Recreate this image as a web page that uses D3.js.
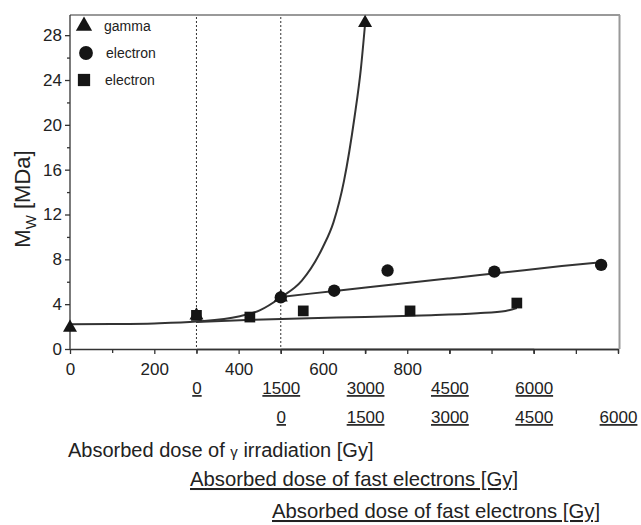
<!DOCTYPE html>
<html><head><meta charset="utf-8">
<script src="https://cdn.jsdelivr.net/npm/d3@7"></script>
<style>
html,body{margin:0;padding:0;background:#fff;}
text{font-family:"Liberation Sans",Arial,sans-serif;fill:#222;}
</style></head>
<body>
<svg id="chart" width="641" height="525"></svg>
<script>
// ---- data ----
const gammaTicks = [0, 200, 400, 600, 800];
const electronTicks = [0, 1500, 3000, 4500, 6000];
const yTicks = [0, 4, 8, 12, 16, 20, 24, 28];

const gammaDose = [0, 300, 500, 700];
const gammaMw = [1.9, 3.0, 4.6, 29.1];
const elecCircleDose = [0, 950, 1900, 3800, 5700];   // second electron axis
const elecCircleMw = [4.6, 5.2, 7.0, 6.9, 7.5];
const elecSquareDose = [0, 950, 1900, 3800, 5700];   // first electron axis
const elecSquareMw = [3.0, 2.85, 3.4, 3.4, 4.1];

const gammaFitDose = [0, 100, 200, 300, 400, 450, 500, 550, 600, 625, 650, 675, 690, 700];
const gammaFitMw = [2.2, 2.22, 2.28, 2.45, 2.9, 3.45, 4.6, 6.1, 9.1, 11.3, 15.0, 20.7, 25.0, 29.0];
const circleFitDose = [0, 1000, 2000, 3000, 4000, 5000, 5700];
const circleFitMw = [4.65, 5.2, 5.75, 6.3, 6.85, 7.4, 7.75];
const squareFitDose = [0, 1000, 2000, 3000, 4000, 5000, 5500, 5700];
const squareFitMw = [2.4, 2.6, 2.75, 2.85, 3.0, 3.2, 3.4, 3.65];

const legendLabels = ["gamma", "electron", "electron"];

// ---- scales ----
const svg = d3.select("#chart");
const x0 = 70, x1 = 618, yb = 349, yt = 15;
const xG = d3.scaleLinear().domain([0, 1300]).range([x0, x1]);
const xE1 = d3.scaleLinear().domain([0, 6000]).range([xG(300), xG(1100)]);
const xE2 = d3.scaleLinear().domain([0, 6000]).range([xG(500), xG(1300)]);
const y = d3.scaleLinear().domain([0, 29.8]).range([yb, yt]);

const ink = "#222";

// frame
svg.append("line").attr("x1", x0).attr("x2", 620).attr("y1", yt).attr("y2", yt)
  .attr("stroke", "#999").attr("stroke-width", 2);
svg.append("line").attr("x1", 619.5).attr("x2", 619.5).attr("y1", yt).attr("y2", yb)
  .attr("stroke", "#999").attr("stroke-width", 2);

// dotted verticals
[300, 500].forEach(v => {
  svg.append("line").attr("x1", xG(v)).attr("x2", xG(v)).attr("y1", yt + 2).attr("y2", yb)
    .attr("stroke", "#333").attr("stroke-width", 1).attr("stroke-dasharray", "2,2");
});

function styleAxis(g, fs) {
  g.selectAll("path.domain").attr("stroke", "#333").attr("stroke-width", 1.3);
  g.selectAll(".tick line").attr("stroke", "#333").attr("stroke-width", 1.3);
  g.selectAll("text").attr("font-size", fs).attr("fill", ink)
    .style("font-family", '"Liberation Sans",Arial,sans-serif');
}

// y axis
const gy = svg.append("g").attr("transform", `translate(${x0},0)`)
  .call(d3.axisLeft(y).tickValues(yTicks).tickSize(5).tickSizeOuter(0).tickPadding(3));
styleAxis(gy, 17);
gy.select("path.domain").attr("d", `M0,${yb}V${yt}`);
const gyMinor = svg.append("g").attr("transform", `translate(${x0},0)`)
  .call(d3.axisLeft(y).tickValues(d3.range(2, 29, 4)).tickSize(3).tickFormat(""));
gyMinor.select("path.domain").remove();
styleAxis(gyMinor, 17);

// gamma x axis
const gx = svg.append("g").attr("transform", `translate(0,${yb})`)
  .call(d3.axisBottom(xG).tickValues(d3.range(0, 1301, 200)).tickSize(5).tickSizeOuter(0).tickPadding(9)
    .tickFormat(d => gammaTicks.includes(d) ? String(d) : ""));
styleAxis(gx, 17);
const gxMinor = svg.append("g").attr("transform", `translate(0,${yb})`)
  .call(d3.axisBottom(xG).tickValues(d3.range(100, 1301, 200)).tickSize(4).tickFormat(""));
gxMinor.select("path.domain").remove();
styleAxis(gxMinor, 17);

// electron axes (overlaid on the bottom line)
const ge1 = svg.append("g").attr("transform", `translate(0,${yb})`)
  .call(d3.axisBottom(xE1).tickValues(electronTicks).tickSize(5).tickSizeOuter(0).tickPadding(28)
    .tickFormat(d => String(d)));
styleAxis(ge1, 17);
const ge2 = svg.append("g").attr("transform", `translate(0,${yb})`)
  .call(d3.axisBottom(xE2).tickValues(electronTicks).tickSize(5).tickSizeOuter(0).tickPadding(57)
    .tickFormat(d => String(d)));
styleAxis(ge2, 17);
[ge1, ge2].forEach(g => g.selectAll("text").style("text-decoration", "underline").attr("fill", "#333"));

// fit lines
const line = (sx) => d3.line().x(d => sx(d[0])).y(d => y(d[1])).curve(d3.curveMonotoneX);
function fit(sx, xs, ys) {
  svg.append("path").datum(xs.map((v, i) => [v, ys[i]]))
    .attr("d", line(sx)).attr("fill", "none").attr("stroke", "#333").attr("stroke-width", 2);
}
fit(xG, gammaFitDose, gammaFitMw);
fit(xE2, circleFitDose, circleFitMw);
fit(xE1, squareFitDose, squareFitMw);

// markers
function marks(sx, xs, ys, type, size) {
  svg.append("g").selectAll("path").data(xs.map((v, i) => [v, ys[i]])).join("path")
    .attr("transform", d => `translate(${sx(d[0])},${y(d[1])})`)
    .attr("d", d3.symbol().type(type).size(size)).attr("fill", "#151515");
}
marks(xE1, elecSquareDose, elecSquareMw, d3.symbolSquare, 115);
marks(xE2, elecCircleDose, elecCircleMw, d3.symbolCircle, 120);
marks(xG, gammaDose, gammaMw, d3.symbolTriangle, 85);

// legend
const legTypes = [d3.symbolTriangle, d3.symbolCircle, d3.symbolSquare];
const legSizes = [115, 150, 150];
const legY = [26, 53, 80];
const legTx = [104, 106, 105];
legendLabels.forEach((lab, i) => {
  svg.append("path").attr("transform", `translate(${i === 1 ? 86 : 84},${legY[i]})`)
    .attr("d", d3.symbol().type(legTypes[i]).size(legSizes[i])).attr("fill", "#151515");
  svg.append("text").attr("x", legTx[i]).attr("y", legY[i] + 5).attr("font-size", 14)
    .attr("fill", "#333").text(lab);
});

// y title
const yt1 = svg.append("text").attr("transform", "translate(30,199) rotate(-90)")
  .attr("text-anchor", "middle").attr("font-size", 22);
yt1.append("tspan").text("M");
yt1.append("tspan").attr("font-size", 15).attr("dy", 6).text("W");
yt1.append("tspan").attr("dy", -6).text(" [MDa]");

// x titles
const t1 = svg.append("text").attr("x", 68).attr("y", 457).attr("font-size", 20);
t1.append("tspan").text("Absorbed dose of ");
t1.append("tspan").attr("font-size", 15).text("γ");
t1.append("tspan").text(" irradiation [Gy]");
svg.append("text").attr("x", 190).attr("y", 486).attr("font-size", 20.3)
  .style("text-decoration", "underline").text("Absorbed dose of fast electrons [Gy]");
svg.append("text").attr("x", 272).attr("y", 518).attr("font-size", 20.3)
  .style("text-decoration", "underline").text("Absorbed dose of fast electrons [Gy]");
</script>
</body></html>
